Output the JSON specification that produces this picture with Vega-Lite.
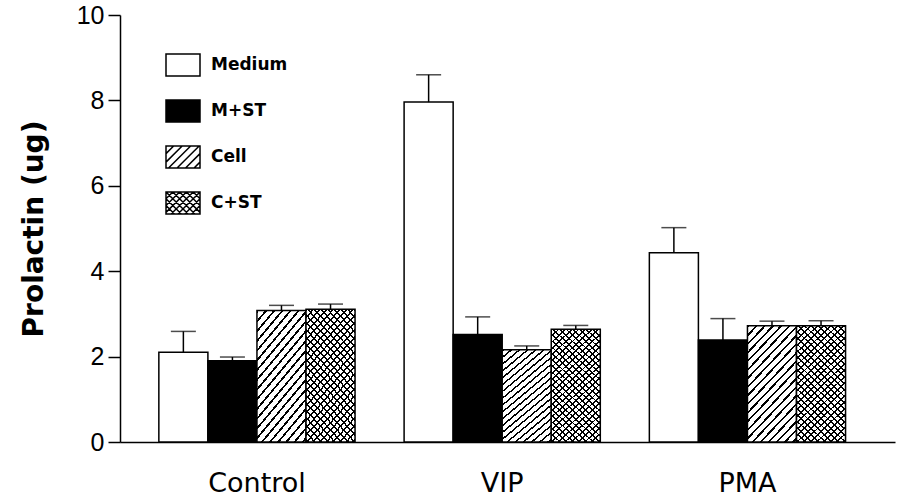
{
  "$schema": "https://vega.github.io/schema/vega-lite/v6.json",
  "width": 775,
  "height": 427,
  "autosize": {"type": "none"},
  "padding": {"left": 120, "top": 15, "right": 2, "bottom": 62},
  "background": "white",
  "config": {
    "view": {"stroke": null},
    "legend": {"title": null, "orient": "none", "legendX": 45, "legendY": 32, "padding": 0, "rowPadding": 13, "labelFont": "DejaVu Sans", "labelFontWeight": "bold", "labelFontSize": 17, "labelColor": "black", "labelOffset": 10, "symbolSize": 1156, "symbolOpacity": 1, "symbolStrokeColor": "black", "symbolStrokeWidth": 1.5}
  },
  "data": {"values": [
    {"group": "Control", "treatment": "Medium", "value": 2.1, "upper": 2.59},
    {"group": "Control", "treatment": "M+ST", "value": 1.9, "upper": 1.99},
    {"group": "Control", "treatment": "Cell", "value": 3.08, "upper": 3.2},
    {"group": "Control", "treatment": "C+ST", "value": 3.11, "upper": 3.23},
    {"group": "VIP", "treatment": "Medium", "value": 7.96, "upper": 8.6},
    {"group": "VIP", "treatment": "M+ST", "value": 2.52, "upper": 2.93},
    {"group": "VIP", "treatment": "Cell", "value": 2.16, "upper": 2.25},
    {"group": "VIP", "treatment": "C+ST", "value": 2.64, "upper": 2.73},
    {"group": "PMA", "treatment": "Medium", "value": 4.43, "upper": 5.02},
    {"group": "PMA", "treatment": "M+ST", "value": 2.39, "upper": 2.89},
    {"group": "PMA", "treatment": "Cell", "value": 2.72, "upper": 2.83},
    {"group": "PMA", "treatment": "C+ST", "value": 2.72, "upper": 2.84}
  ]},
  "encoding": {
    "x": {"field": "group", "type": "nominal",
      "scale": {"domain": ["Control", "VIP", "PMA"], "paddingInner": 0.2, "paddingOuter": 0.18, "align": 0.44},
      "axis": {"title": null, "ticks": false, "labelAngle": 0, "labelPadding": 28, "labelFont": "DejaVu Sans", "labelFontSize": 27, "labelColor": "black", "domainColor": "black", "domainWidth": 1.5, "grid": false}},
    "xOffset": {"field": "treatment", "type": "nominal",
      "scale": {"domain": ["Medium", "M+ST", "Cell", "C+ST"], "paddingInner": 0, "paddingOuter": 0}},
    "y": {"field": "value", "type": "quantitative",
      "scale": {"domain": [0, 10], "nice": false},
      "axis": {"title": "Prolactin (ug)", "values": [0, 2, 4, 6, 8, 10], "grid": false, "tickSize": 12, "tickColor": "black", "tickWidth": 1.5, "domainColor": "black", "domainWidth": 1.5, "labelFont": "Liberation Sans", "labelFontSize": 25, "labelColor": "black", "labelPadding": 4, "titleFont": "DejaVu Sans", "titleFontSize": 28, "titleFontWeight": "bold", "titleColor": "black", "titlePadding": 28}}
  },
  "layer": [
    {
      "mark": {"type": "bar", "stroke": "black", "strokeWidth": 1.5},
      "encoding": {
        "fill": {"field": "treatment", "type": "nominal",
          "scale": {"domain": ["Medium", "M+ST", "Cell", "C+ST"], "range": ["white", "black", "white", "white"]}}
      }
    },
    {
      "transform": [{"filter": "datum.treatment === 'Cell' || datum.treatment === 'C+ST'"}],
      "mark": {"type": "bar"},
      "encoding": {
        "fill": {
          "condition": {"test": "datum.treatment === 'Cell'", "value": {"gradient": "linear", "x1": 0, "y1": 0, "x2": 0.5495, "y2": 1.2336, "stops": [
            {"offset": 0, "color": "#000"}, {"offset": 0.014, "color": "#000"}, {"offset": 0.014, "color": "transparent"}, {"offset": 0.05, "color": "transparent"},
            {"offset": 0.05, "color": "#000"}, {"offset": 0.064, "color": "#000"}, {"offset": 0.064, "color": "transparent"}, {"offset": 0.1, "color": "transparent"},
            {"offset": 0.1, "color": "#000"}, {"offset": 0.114, "color": "#000"}, {"offset": 0.114, "color": "transparent"}, {"offset": 0.15, "color": "transparent"},
            {"offset": 0.15, "color": "#000"}, {"offset": 0.164, "color": "#000"}, {"offset": 0.164, "color": "transparent"}, {"offset": 0.2, "color": "transparent"},
            {"offset": 0.2, "color": "#000"}, {"offset": 0.214, "color": "#000"}, {"offset": 0.214, "color": "transparent"}, {"offset": 0.25, "color": "transparent"},
            {"offset": 0.25, "color": "#000"}, {"offset": 0.264, "color": "#000"}, {"offset": 0.264, "color": "transparent"}, {"offset": 0.3, "color": "transparent"},
            {"offset": 0.3, "color": "#000"}, {"offset": 0.314, "color": "#000"}, {"offset": 0.314, "color": "transparent"}, {"offset": 0.35, "color": "transparent"},
            {"offset": 0.35, "color": "#000"}, {"offset": 0.364, "color": "#000"}, {"offset": 0.364, "color": "transparent"}, {"offset": 0.4, "color": "transparent"},
            {"offset": 0.4, "color": "#000"}, {"offset": 0.414, "color": "#000"}, {"offset": 0.414, "color": "transparent"}, {"offset": 0.45, "color": "transparent"},
            {"offset": 0.45, "color": "#000"}, {"offset": 0.464, "color": "#000"}, {"offset": 0.464, "color": "transparent"}, {"offset": 0.5, "color": "transparent"},
            {"offset": 0.5, "color": "#000"}, {"offset": 0.514, "color": "#000"}, {"offset": 0.514, "color": "transparent"}, {"offset": 0.55, "color": "transparent"},
            {"offset": 0.55, "color": "#000"}, {"offset": 0.564, "color": "#000"}, {"offset": 0.564, "color": "transparent"}, {"offset": 0.6, "color": "transparent"},
            {"offset": 0.6, "color": "#000"}, {"offset": 0.614, "color": "#000"}, {"offset": 0.614, "color": "transparent"}, {"offset": 0.65, "color": "transparent"},
            {"offset": 0.65, "color": "#000"}, {"offset": 0.664, "color": "#000"}, {"offset": 0.664, "color": "transparent"}, {"offset": 0.7, "color": "transparent"},
            {"offset": 0.7, "color": "#000"}, {"offset": 0.714, "color": "#000"}, {"offset": 0.714, "color": "transparent"}, {"offset": 0.75, "color": "transparent"},
            {"offset": 0.75, "color": "#000"}, {"offset": 0.764, "color": "#000"}, {"offset": 0.764, "color": "transparent"}, {"offset": 0.8, "color": "transparent"},
            {"offset": 0.8, "color": "#000"}, {"offset": 0.814, "color": "#000"}, {"offset": 0.814, "color": "transparent"}, {"offset": 0.85, "color": "transparent"},
            {"offset": 0.85, "color": "#000"}, {"offset": 0.864, "color": "#000"}, {"offset": 0.864, "color": "transparent"}, {"offset": 0.9, "color": "transparent"},
            {"offset": 0.9, "color": "#000"}, {"offset": 0.914, "color": "#000"}, {"offset": 0.914, "color": "transparent"}, {"offset": 0.95, "color": "transparent"},
            {"offset": 0.95, "color": "#000"}, {"offset": 0.964, "color": "#000"}, {"offset": 0.964, "color": "transparent"}, {"offset": 1, "color": "transparent"}
          ]}},
          "value": {"gradient": "linear", "x1": 0, "y1": 0, "x2": 0.5032, "y2": 1.2323, "stops": [
            {"offset": 0, "color": "#000"}, {"offset": 0.011, "color": "#000"}, {"offset": 0.011, "color": "transparent"}, {"offset": 0.0385, "color": "transparent"},
            {"offset": 0.0385, "color": "#000"}, {"offset": 0.0495, "color": "#000"}, {"offset": 0.0495, "color": "transparent"}, {"offset": 0.0769, "color": "transparent"},
            {"offset": 0.0769, "color": "#000"}, {"offset": 0.0879, "color": "#000"}, {"offset": 0.0879, "color": "transparent"}, {"offset": 0.1154, "color": "transparent"},
            {"offset": 0.1154, "color": "#000"}, {"offset": 0.1264, "color": "#000"}, {"offset": 0.1264, "color": "transparent"}, {"offset": 0.1538, "color": "transparent"},
            {"offset": 0.1538, "color": "#000"}, {"offset": 0.1648, "color": "#000"}, {"offset": 0.1648, "color": "transparent"}, {"offset": 0.1923, "color": "transparent"},
            {"offset": 0.1923, "color": "#000"}, {"offset": 0.2033, "color": "#000"}, {"offset": 0.2033, "color": "transparent"}, {"offset": 0.2308, "color": "transparent"},
            {"offset": 0.2308, "color": "#000"}, {"offset": 0.2418, "color": "#000"}, {"offset": 0.2418, "color": "transparent"}, {"offset": 0.2692, "color": "transparent"},
            {"offset": 0.2692, "color": "#000"}, {"offset": 0.2802, "color": "#000"}, {"offset": 0.2802, "color": "transparent"}, {"offset": 0.3077, "color": "transparent"},
            {"offset": 0.3077, "color": "#000"}, {"offset": 0.3187, "color": "#000"}, {"offset": 0.3187, "color": "transparent"}, {"offset": 0.3462, "color": "transparent"},
            {"offset": 0.3462, "color": "#000"}, {"offset": 0.3572, "color": "#000"}, {"offset": 0.3572, "color": "transparent"}, {"offset": 0.3846, "color": "transparent"},
            {"offset": 0.3846, "color": "#000"}, {"offset": 0.3956, "color": "#000"}, {"offset": 0.3956, "color": "transparent"}, {"offset": 0.4231, "color": "transparent"},
            {"offset": 0.4231, "color": "#000"}, {"offset": 0.4341, "color": "#000"}, {"offset": 0.4341, "color": "transparent"}, {"offset": 0.4615, "color": "transparent"},
            {"offset": 0.4615, "color": "#000"}, {"offset": 0.4725, "color": "#000"}, {"offset": 0.4725, "color": "transparent"}, {"offset": 0.5, "color": "transparent"},
            {"offset": 0.5, "color": "#000"}, {"offset": 0.511, "color": "#000"}, {"offset": 0.511, "color": "transparent"}, {"offset": 0.5385, "color": "transparent"},
            {"offset": 0.5385, "color": "#000"}, {"offset": 0.5495, "color": "#000"}, {"offset": 0.5495, "color": "transparent"}, {"offset": 0.5769, "color": "transparent"},
            {"offset": 0.5769, "color": "#000"}, {"offset": 0.5879, "color": "#000"}, {"offset": 0.5879, "color": "transparent"}, {"offset": 0.6154, "color": "transparent"},
            {"offset": 0.6154, "color": "#000"}, {"offset": 0.6264, "color": "#000"}, {"offset": 0.6264, "color": "transparent"}, {"offset": 0.6538, "color": "transparent"},
            {"offset": 0.6538, "color": "#000"}, {"offset": 0.6648, "color": "#000"}, {"offset": 0.6648, "color": "transparent"}, {"offset": 0.6923, "color": "transparent"},
            {"offset": 0.6923, "color": "#000"}, {"offset": 0.7033, "color": "#000"}, {"offset": 0.7033, "color": "transparent"}, {"offset": 0.7308, "color": "transparent"},
            {"offset": 0.7308, "color": "#000"}, {"offset": 0.7418, "color": "#000"}, {"offset": 0.7418, "color": "transparent"}, {"offset": 0.7692, "color": "transparent"},
            {"offset": 0.7692, "color": "#000"}, {"offset": 0.7802, "color": "#000"}, {"offset": 0.7802, "color": "transparent"}, {"offset": 0.8077, "color": "transparent"},
            {"offset": 0.8077, "color": "#000"}, {"offset": 0.8187, "color": "#000"}, {"offset": 0.8187, "color": "transparent"}, {"offset": 0.8462, "color": "transparent"},
            {"offset": 0.8462, "color": "#000"}, {"offset": 0.8572, "color": "#000"}, {"offset": 0.8572, "color": "transparent"}, {"offset": 0.8846, "color": "transparent"},
            {"offset": 0.8846, "color": "#000"}, {"offset": 0.8956, "color": "#000"}, {"offset": 0.8956, "color": "transparent"}, {"offset": 0.9231, "color": "transparent"},
            {"offset": 0.9231, "color": "#000"}, {"offset": 0.9341, "color": "#000"}, {"offset": 0.9341, "color": "transparent"}, {"offset": 0.9615, "color": "transparent"},
            {"offset": 0.9615, "color": "#000"}, {"offset": 0.9725, "color": "#000"}, {"offset": 0.9725, "color": "transparent"}, {"offset": 1, "color": "transparent"}
          ]}
        }
      }
    },
    {
      "transform": [{"filter": "datum.treatment === 'C+ST'"}],
      "mark": {"type": "bar"},
      "encoding": {
        "fill": {"value": {"gradient": "linear", "x1": 1, "y1": 0, "x2": 0.4968, "y2": 1.2323, "stops": [
            {"offset": 0, "color": "#000"}, {"offset": 0.011, "color": "#000"}, {"offset": 0.011, "color": "transparent"}, {"offset": 0.0385, "color": "transparent"},
            {"offset": 0.0385, "color": "#000"}, {"offset": 0.0495, "color": "#000"}, {"offset": 0.0495, "color": "transparent"}, {"offset": 0.0769, "color": "transparent"},
            {"offset": 0.0769, "color": "#000"}, {"offset": 0.0879, "color": "#000"}, {"offset": 0.0879, "color": "transparent"}, {"offset": 0.1154, "color": "transparent"},
            {"offset": 0.1154, "color": "#000"}, {"offset": 0.1264, "color": "#000"}, {"offset": 0.1264, "color": "transparent"}, {"offset": 0.1538, "color": "transparent"},
            {"offset": 0.1538, "color": "#000"}, {"offset": 0.1648, "color": "#000"}, {"offset": 0.1648, "color": "transparent"}, {"offset": 0.1923, "color": "transparent"},
            {"offset": 0.1923, "color": "#000"}, {"offset": 0.2033, "color": "#000"}, {"offset": 0.2033, "color": "transparent"}, {"offset": 0.2308, "color": "transparent"},
            {"offset": 0.2308, "color": "#000"}, {"offset": 0.2418, "color": "#000"}, {"offset": 0.2418, "color": "transparent"}, {"offset": 0.2692, "color": "transparent"},
            {"offset": 0.2692, "color": "#000"}, {"offset": 0.2802, "color": "#000"}, {"offset": 0.2802, "color": "transparent"}, {"offset": 0.3077, "color": "transparent"},
            {"offset": 0.3077, "color": "#000"}, {"offset": 0.3187, "color": "#000"}, {"offset": 0.3187, "color": "transparent"}, {"offset": 0.3462, "color": "transparent"},
            {"offset": 0.3462, "color": "#000"}, {"offset": 0.3572, "color": "#000"}, {"offset": 0.3572, "color": "transparent"}, {"offset": 0.3846, "color": "transparent"},
            {"offset": 0.3846, "color": "#000"}, {"offset": 0.3956, "color": "#000"}, {"offset": 0.3956, "color": "transparent"}, {"offset": 0.4231, "color": "transparent"},
            {"offset": 0.4231, "color": "#000"}, {"offset": 0.4341, "color": "#000"}, {"offset": 0.4341, "color": "transparent"}, {"offset": 0.4615, "color": "transparent"},
            {"offset": 0.4615, "color": "#000"}, {"offset": 0.4725, "color": "#000"}, {"offset": 0.4725, "color": "transparent"}, {"offset": 0.5, "color": "transparent"},
            {"offset": 0.5, "color": "#000"}, {"offset": 0.511, "color": "#000"}, {"offset": 0.511, "color": "transparent"}, {"offset": 0.5385, "color": "transparent"},
            {"offset": 0.5385, "color": "#000"}, {"offset": 0.5495, "color": "#000"}, {"offset": 0.5495, "color": "transparent"}, {"offset": 0.5769, "color": "transparent"},
            {"offset": 0.5769, "color": "#000"}, {"offset": 0.5879, "color": "#000"}, {"offset": 0.5879, "color": "transparent"}, {"offset": 0.6154, "color": "transparent"},
            {"offset": 0.6154, "color": "#000"}, {"offset": 0.6264, "color": "#000"}, {"offset": 0.6264, "color": "transparent"}, {"offset": 0.6538, "color": "transparent"},
            {"offset": 0.6538, "color": "#000"}, {"offset": 0.6648, "color": "#000"}, {"offset": 0.6648, "color": "transparent"}, {"offset": 0.6923, "color": "transparent"},
            {"offset": 0.6923, "color": "#000"}, {"offset": 0.7033, "color": "#000"}, {"offset": 0.7033, "color": "transparent"}, {"offset": 0.7308, "color": "transparent"},
            {"offset": 0.7308, "color": "#000"}, {"offset": 0.7418, "color": "#000"}, {"offset": 0.7418, "color": "transparent"}, {"offset": 0.7692, "color": "transparent"},
            {"offset": 0.7692, "color": "#000"}, {"offset": 0.7802, "color": "#000"}, {"offset": 0.7802, "color": "transparent"}, {"offset": 0.8077, "color": "transparent"},
            {"offset": 0.8077, "color": "#000"}, {"offset": 0.8187, "color": "#000"}, {"offset": 0.8187, "color": "transparent"}, {"offset": 0.8462, "color": "transparent"},
            {"offset": 0.8462, "color": "#000"}, {"offset": 0.8572, "color": "#000"}, {"offset": 0.8572, "color": "transparent"}, {"offset": 0.8846, "color": "transparent"},
            {"offset": 0.8846, "color": "#000"}, {"offset": 0.8956, "color": "#000"}, {"offset": 0.8956, "color": "transparent"}, {"offset": 0.9231, "color": "transparent"},
            {"offset": 0.9231, "color": "#000"}, {"offset": 0.9341, "color": "#000"}, {"offset": 0.9341, "color": "transparent"}, {"offset": 0.9615, "color": "transparent"},
            {"offset": 0.9615, "color": "#000"}, {"offset": 0.9725, "color": "#000"}, {"offset": 0.9725, "color": "transparent"}, {"offset": 1, "color": "transparent"}
          ]}}
      }
    },
    {
      "mark": {"type": "rule", "color": "black", "strokeWidth": 1.5},
      "encoding": {"y2": {"field": "upper"}}
    },
    {
      "mark": {"type": "tick", "color": "black", "orient": "horizontal", "size": 25, "thickness": 1.5},
      "encoding": {"y": {"field": "upper", "type": "quantitative"}}
    },
    {
      "mark": {"type": "point", "filled": false, "opacity": 0, "stroke": "black", "strokeWidth": 1.5, "size": 1156},
      "encoding": {
        "shape": {"field": "treatment", "type": "nominal",
          "scale": {"domain": ["Medium", "M+ST", "Cell", "C+ST"], "range": [
            "M-1,-0.65H1V0.65H-1Z",
            "M-1,-0.65H1V0.65H-1Z",
            "M-1,-0.65H1V0.65H-1ZM-1,-0.2L-0.55,-0.65M-1,0.3L-0.05,-0.65M-0.85,0.65L0.45,-0.65M-0.35,0.65L0.95,-0.65M0.15,0.65L1,-0.2M0.65,0.65L1,0.3",
            "M-1,-0.65H1V0.65H-1ZM-1,-0.25L-0.6,-0.65M-1,0.15L-0.2,-0.65M-1,0.55L0.2,-0.65M-0.7,0.65L0.6,-0.65M-0.3,0.65L1,-0.65M0.1,0.65L1,-0.25M0.5,0.65L1,0.15M0.6,-0.65L1,-0.25M0.2,-0.65L1,0.15M-0.2,-0.65L1,0.55M-0.6,-0.65L0.7,0.65M-1,-0.65L0.3,0.65M-1,-0.25L-0.1,0.65M-1,0.15L-0.5,0.65"
          ]}}
      }
    }
  ]
}
